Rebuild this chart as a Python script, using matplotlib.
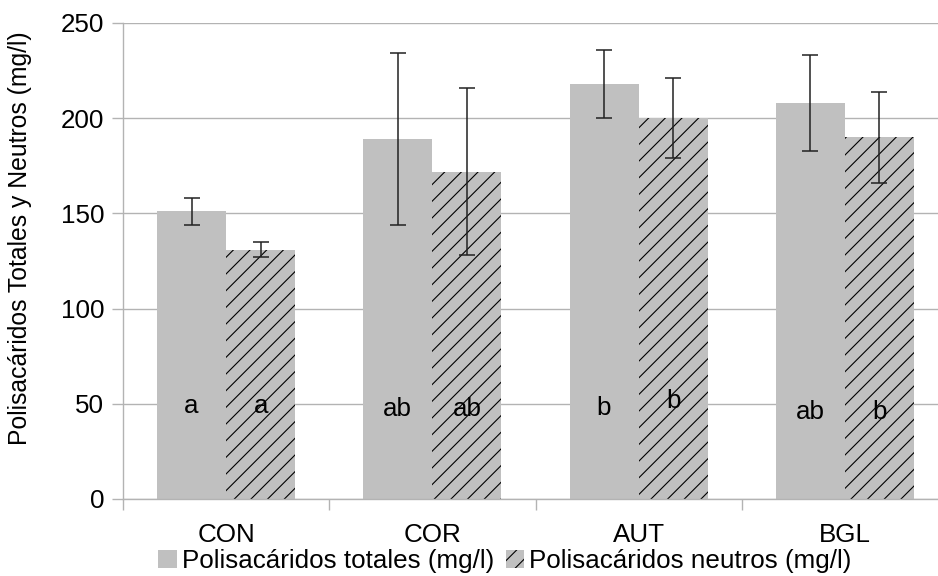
#!/usr/bin/env python3
"""Polisacáridos totales y neutros por tratamiento (bar chart with error bars)."""

import matplotlib
matplotlib.use("Agg")
import matplotlib.pyplot as plt
import numpy as np

# data
categories = ["CON", "COR", "AUT", "BGL"]
totales = [151, 189, 218, 208]
totales_err = [7, 45, 18, 25]
neutros = [131, 172, 200, 190]
neutros_err = [4, 44, 21, 24]
letras_totales = ["a", "ab", "b", "ab"]
letras_neutros = ["a", "ab", "b", "b"]
letras_tot_y = [45, 43.5, 44, 42]
letras_neu_y = [45, 43.5, 48, 42]
yticks = [0, 50, 100, 150, 200, 250]

plt.rcParams["font.family"] = ["Liberation Sans", "DejaVu Sans"]
plt.rcParams["hatch.color"] = "black"
plt.rcParams["hatch.linewidth"] = 0.8

GRID = "#b3b3b3"
BAR = "#c0c0c0"
FS = 18.7

fig = plt.figure(figsize=(9.38, 5.76), dpi=100)
ax = fig.add_axes([123 / 938, 77 / 576, 825 / 938, 476 / 576])

x = np.arange(len(categories)) + 0.5
w = 0.335

ax.bar(x - w / 2, totales, width=w, color=BAR, linewidth=0,
       label="Polisacáridos totales (mg/l)", zorder=2)
ax.bar(x + w / 2, neutros, width=w, color=BAR, hatch="//", linewidth=0,
       label="Polisacáridos neutros (mg/l)", zorder=2)

err_kw = dict(fmt="none", ecolor="#222222", elinewidth=1.1, capsize=5.6,
              capthick=1.1, zorder=3)
ax.errorbar(x - w / 2, totales, yerr=totales_err, **err_kw)
ax.errorbar(x + w / 2, neutros, yerr=neutros_err, **err_kw)

for xi, t, ty in zip(x - w / 2, letras_totales, letras_tot_y):
    ax.text(xi, ty, t, ha="center", va="baseline", fontsize=FS, zorder=4)
for xi, t, ty in zip(x + w / 2, letras_neutros, letras_neu_y):
    ax.text(xi, ty, t, ha="center", va="baseline", fontsize=FS, zorder=4)

ax.set_xlim(0, len(categories))
ax.set_ylim(0, 250)
ax.set_yticks(yticks)
ax.yaxis.grid(True, color=GRID, linewidth=1.0, zorder=0)
ax.set_axisbelow(True)

# category boundaries get the ticks, centres get the labels
ax.set_xticks(np.arange(len(categories) + 1))
ax.set_xticklabels([])
ax.set_xticks(x, minor=True)
ax.set_xticklabels(categories, minor=True, fontsize=FS)
ax.tick_params(axis="x", which="major", length=8, width=1, color=GRID,
               direction="out")
ax.tick_params(axis="x", which="minor", length=0, pad=17.5)
ax.tick_params(axis="y", length=8, width=1, color=GRID, direction="out",
               labelsize=FS, pad=5.5)

for side in ("top", "right"):
    ax.spines[side].set_visible(False)
for side in ("left", "bottom"):
    ax.spines[side].set_color(GRID)
    ax.spines[side].set_linewidth(1.0)

fig.text(20 / 938, 1 - 238.5 / 576, "Polisacáridos Totales y Neutros (mg/l)",
         rotation=90, ha="center", va="center", fontsize=17.8)

fig.legend(loc="center", bbox_to_anchor=(505 / 938, 1 - 561 / 576),
           ncol=2, frameon=False, fontsize=FS, handlelength=0.7,
           handleheight=0.7, handletextpad=0.2, columnspacing=0.45,
           borderpad=0, borderaxespad=0)

fig.savefig("out.png", dpi=100)
